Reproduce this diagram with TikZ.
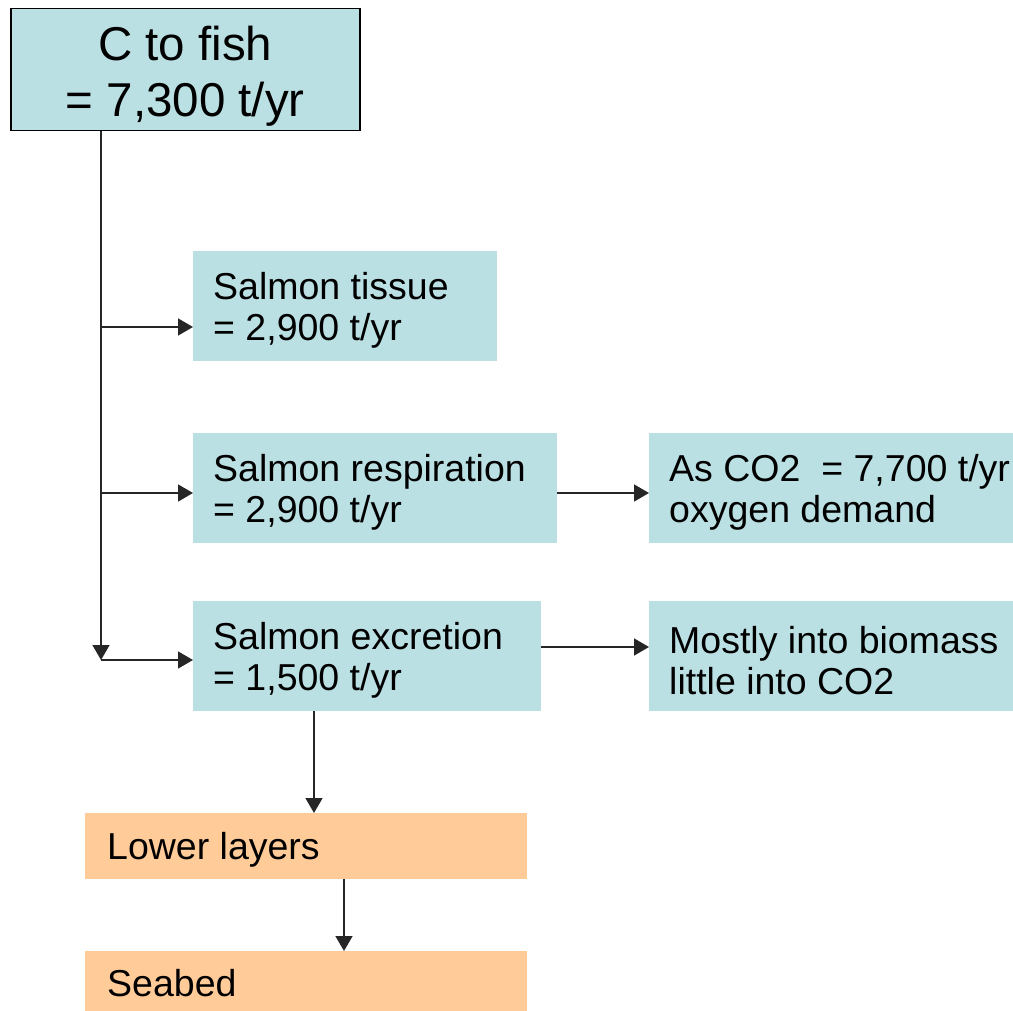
\documentclass[tikz,border=0pt]{standalone}
\usepackage{fontspec}
\setmainfont{Liberation Sans}
\usetikzlibrary{arrows.meta}
\definecolor{boxblue}{RGB}{187,224,227}
\definecolor{boxorange}{RGB}{255,204,153}
\begin{document}
\begin{tikzpicture}[x=1pt,y=-1pt,
  bluebox/.style={fill=boxblue,draw=none,rectangle,anchor=north west,inner sep=0pt,minimum height=110pt},
  orangebox/.style={fill=boxorange,draw=none,rectangle,anchor=north west,inner sep=0pt},
  txt/.style={anchor=west,inner sep=0pt,align=left,font=\fontsize{37.5}{41}\selectfont},
  arr/.style={draw=black!85,line width=1.5pt,-{Triangle[length=15pt,width=17pt]}}]
\useasboundingbox (0,0) rectangle (1013,1011);
% top box
\node[fill=boxblue,draw=black,line width=1.5pt,anchor=north west,minimum width=349pt,minimum height=122pt,inner sep=0pt] (top) at (10,8) {};
\node[inner sep=0pt,align=center,font=\fontsize{47.5}{56}\selectfont] (topt) at ([shift={(0,6)}]top.center) {C to fish\\= 7,300 t/yr};
% blue boxes
\node[bluebox,minimum width=304pt] (tissue) at (193,251) {};
\node[txt] (tissuet) at ([shift={(20,4)}]tissue.west) {Salmon tissue\\= 2,900 t/yr};
\node[bluebox,minimum width=364pt] (resp) at (193,433) {};
\node[txt] (respt) at ([shift={(20,4)}]resp.west) {Salmon respiration\\= 2,900 t/yr};
\node[bluebox,minimum width=380pt] (co2) at (649,433) {};
\node[txt] (co2t) at ([shift={(20,4)}]co2.west) {As CO2\ \ = 7,700 t/yr\\oxygen demand};
\node[bluebox,minimum width=348pt] (exc) at (193,601) {};
\node[txt] (exct) at ([shift={(20,4)}]exc.west) {Salmon excretion\\= 1,500 t/yr};
\node[bluebox,minimum width=380pt] (mostly) at (649,601) {};
\node[txt] (mostlyt) at ([shift={(20,4)}]mostly.west) {Mostly into biomass\\little into CO2};
% orange boxes
\node[orangebox,minimum width=442pt,minimum height=66pt] (lower) at (85,813) {};
\node[txt] (lowert) at ([shift={(22,4)}]lower.west) {Lower layers};
\node[orangebox,minimum width=442pt,minimum height=70pt] (seabed) at (85,951) {};
\node[txt] (seabedt) at ([shift={(22,-3)}]seabed.west) {Seabed};
% coordinates
\coordinate (t1) at (101,327);
\coordinate (t2) at (101,493);
\coordinate (t3) at (101,660);
\coordinate (ym) at (0,647);
\coordinate (xa) at (314,0);
\coordinate (xb) at (344,0);
% connectors
\draw[arr] (top.south -| t3) -- (t3);
\draw[arr] (t1) -- (tissue.west |- t1);
\draw[arr] (t2) -- (resp.west |- t2);
\draw[arr] (t3) -- (exc.west |- t3);
\draw[arr] (resp.east |- t2) -- (co2.west |- t2);
\draw[arr] (exc.east |- ym) -- (mostly.west |- ym);
\draw[arr] (exc.south -| xa) -- (lower.north -| xa);
\draw[arr] (lower.south -| xb) -- (seabed.north -| xb);
\end{tikzpicture}
\end{document}
